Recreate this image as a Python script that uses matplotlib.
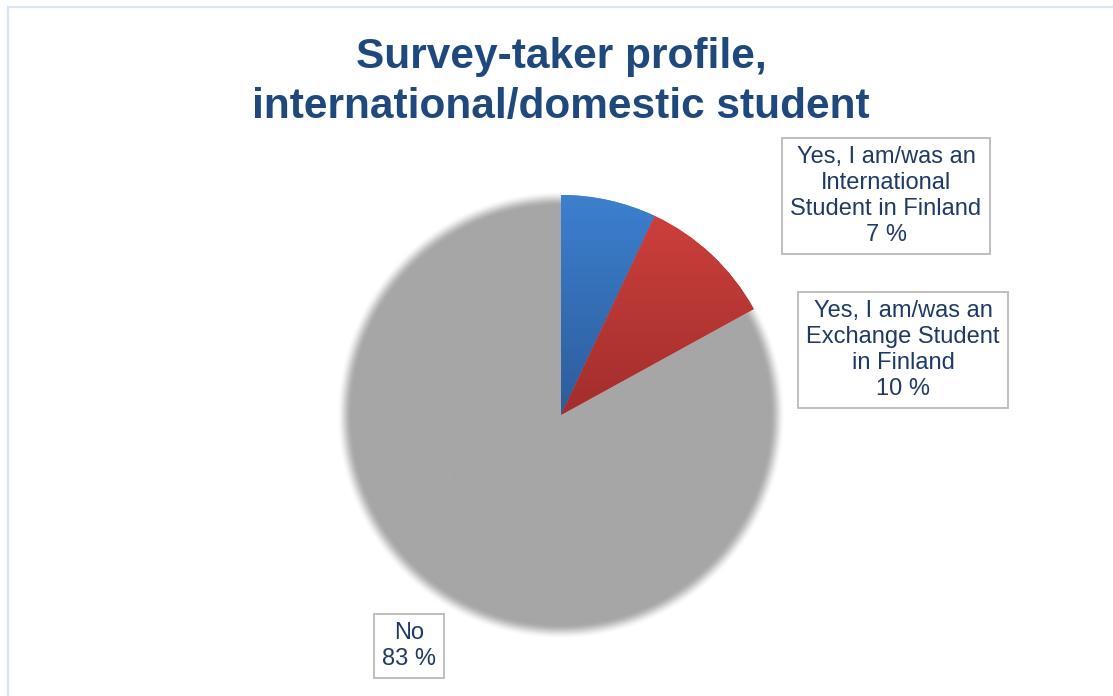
import numpy as np
import matplotlib
matplotlib.use("Agg")
import matplotlib.pyplot as plt
from matplotlib.patches import Rectangle
from matplotlib.colors import to_rgb

# Survey answers: share of respondents (%)
categories = [
    "Yes, I am/was an\nInternational\nStudent in Finland",
    "Yes, I am/was an\nExchange Student\nin Finland",
    "No",
]
shares = [7, 10, 83]

# Slice fills: light tone at the top of the pie, dark tone at its centre
top_colors = ["#3C80CF", "#D0413D", "#A6A6A6"]
bottom_colors = ["#2D5C9B", "#A22E2C", "#A6A6A6"]

title = "Survey-taker profile,\ninternational/domestic student"

W, H = 1113, 696
fig = plt.figure(figsize=(W / 100, H / 100), dpi=100)
ax = fig.add_axes([0, 0, 1, 1])

cx, cy, R = 561, H - 415, 220
wedges, _ = ax.pie(shares, center=(cx, cy), radius=R, startangle=90,
                   counterclock=False, colors=top_colors, frame=True,
                   wedgeprops=dict(linewidth=0))
ax.set_xlim(0, W)
ax.set_ylim(0, H)
ax.set_aspect("equal")
ax.axis("off")

# Vertical gradient fills for the coloured slices
ny = 256
t = np.linspace(0, 1, ny)[:, None]  # 0 at centre, 1 at top
for i in range(2):
    c0 = np.array(to_rgb(bottom_colors[i]))
    c1 = np.array(to_rgb(top_colors[i]))
    grad = (c0 + (c1 - c0) * t)[:, None, :].reshape(ny, 1, 3)
    im = ax.imshow(grad, extent=(cx - R, cx + R, cy, cy + R), origin="lower",
                   aspect="auto", interpolation="bilinear", zorder=3)
    im.set_clip_path(wedges[i])
    wedges[i].set_zorder(2)

# Soft-edged grey slice
gray = wedges[2]
gray.set_radius(R + 16)
gray.set_facecolor("none")
gray.set_zorder(1)
pad = 20
xs = np.arange(cx - R - pad, cx + R + pad + 1, 1.0)
ys = np.arange(cy - R - pad, cy + R + pad + 1, 1.0)
XX, YY = np.meshgrid(xs, ys)
d = np.hypot(XX - cx, YY - cy)
r_mid, width = R - 3, 15.0
s = np.clip((r_mid - d) / width + 0.5, 0, 1)
alpha = s * s * (3 - 2 * s)
rgba = np.zeros(d.shape + (4,))
rgba[..., :3] = to_rgb(top_colors[2])
rgba[..., 3] = alpha
gim = ax.imshow(rgba, extent=(xs[0], xs[-1], ys[0], ys[-1]), origin="lower",
                aspect="auto", interpolation="bilinear", zorder=1.5)
gim.set_clip_path(gray)

ax.set_xlim(0, W)
ax.set_ylim(0, H)

# Chart-area border
ax.add_patch(Rectangle((8, -20), W + 20, H - 7 + 20, fill=False,
                       edgecolor="#DAE5F2", linewidth=1.6, zorder=0))

fig.text(561 / W, 1 - 82 / H, title, ha="center", va="center",
         fontsize=30.5, fontweight="bold", color="#1F497D",
         family="Liberation Sans", linespacing=1.3)

label_centers = [(886, 196), (903, 350), (409, 646)]
for cat, val, (lx, ly) in zip(categories, shares, label_centers):
    ax.text(lx, H - ly, f"{cat}\n{val} %", ha="center", va="center",
            fontsize=17, color="#1F3A66", family="Liberation Sans",
            linespacing=1.24, zorder=5,
            bbox=dict(boxstyle="square,pad=0.35", facecolor="white",
                      edgecolor="#BFBFBF", linewidth=1.4))

fig.savefig("out.png", dpi=100)
